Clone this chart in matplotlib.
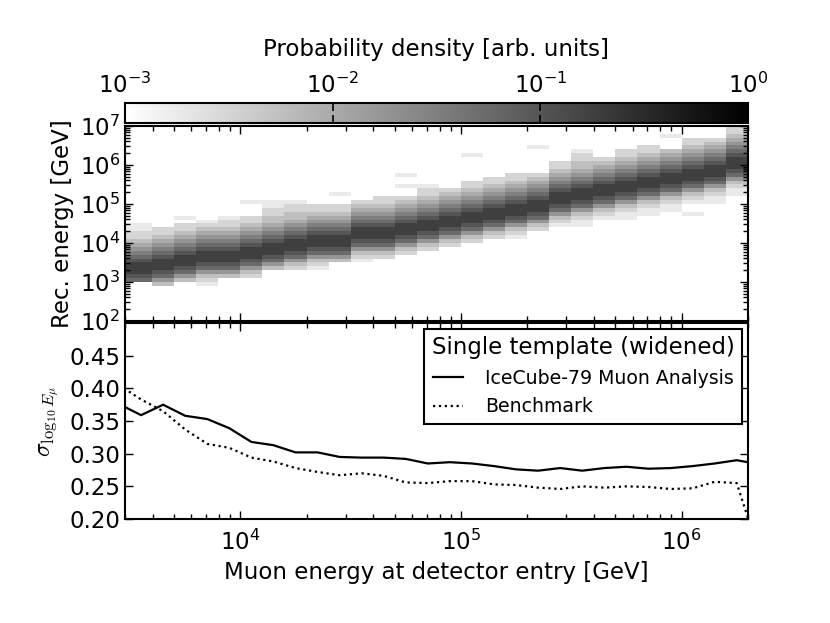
import numpy as np
import matplotlib
matplotlib.use("Agg")
import matplotlib.pyplot as plt
from matplotlib.colors import LogNorm
from matplotlib.ticker import (NullLocator, NullFormatter, FixedLocator,
                               FormatStrFormatter, LogLocator)

# muon energy bins (log10 GeV): first bin clipped by the axis at 3 TeV
x_edges_log = [np.log10(3000.0)] + list(np.round(np.arange(3.6, 6.31, 0.1), 2))
y_edges_log = np.round(np.arange(2.0, 7.01, 0.1), 2)

# heat map: first filled row (tenths of a decade)
# and darkness level per row going up (0 = empty, 9 = darkest)
heat_start = [30, 29, 30, 29, 31, 31, 33, 33, 33, 35, 35, 36, 37, 38,
              39, 40, 41, 41, 43, 44, 44, 46, 46, 47, 48, 47, 50, 52]
heat_levels = [
    "789998765432211",
    "357899987654322",
    "35789998765432201",
    "12357899987654321",
    "3578999876543221",
    "23578999876543220001",
    "357899987654332211",
    "235789998765433221",
    "12357899987654322",
    "357899987654322001",
    "1235789998765432",
    "2357899987654322",
    "235789998765432001001",
    "23578999876543221",
    "235789998765432",
    "23578999876543220000001",
    "2357899987654322",
    "12357899987654322",
    "2357899987654320000001",
    "12357899987654322",
    "11235789998765433221",
    "1235789998765432",
    "112357899987654322",
    "112357899987654322",
    "11235789998765430001",
    "10012357899987654322",
    "11235789998765432",
    "112357899987654322",
]

# resolution curves, points at bin centres
res_x_log = [3.45, 3.55, 3.65, 3.75, 3.85, 3.95, 4.05, 4.15, 4.25, 4.35,
             4.45, 4.55, 4.65, 4.75, 4.85, 4.95, 5.05, 5.15, 5.25, 5.35,
             5.45, 5.55, 5.65, 5.75, 5.85, 5.95, 6.05, 6.15, 6.25, 6.35]
res_ic79 = [0.376, 0.359, 0.375, 0.358, 0.353, 0.339, 0.318, 0.313, 0.302, 0.302,
            0.295, 0.294, 0.294, 0.292, 0.285, 0.287, 0.285, 0.281, 0.276, 0.274,
            0.278, 0.274, 0.278, 0.280, 0.277, 0.278, 0.281, 0.285, 0.290, 0.284]
res_bench = [0.405, 0.383, 0.365, 0.337, 0.315, 0.309, 0.294, 0.288, 0.278, 0.272,
             0.267, 0.270, 0.266, 0.256, 0.255, 0.258, 0.258, 0.253, 0.252, 0.248,
             0.246, 0.250, 0.248, 0.250, 0.249, 0.246, 0.247, 0.257, 0.255, 0.150]

# build the density table
n_rows = len(y_edges_log) - 1
Z = np.zeros((n_rows, len(heat_levels)))
for j, (start, levels) in enumerate(zip(heat_start, heat_levels)):
    for k, ch in enumerate(levels):
        lev = int(ch)
        if lev > 0:
            Z[start - 20 + k, j] = 10 ** (-3 + 0.25 * lev)
Z = np.ma.masked_equal(Z, 0)

xe = 10 ** np.array(x_edges_log)
ye = 10 ** y_edges_log

plt.rcParams['axes.linewidth'] = 1.5
plt.rcParams['font.family'] = 'DejaVu Sans'

fig = plt.figure(figsize=(8.3, 6.23), dpi=100)
cax = fig.add_axes([0.1506, 0.8026, 0.7506, 0.0321])
ax1 = fig.add_axes([0.1506, 0.4848, 0.7506, 0.313])
ax2 = fig.add_axes([0.1506, 0.1669, 0.7506, 0.3146])

fs = 16.5

mesh = ax1.pcolormesh(xe, ye, Z, cmap='gray_r', norm=LogNorm(1e-3, 1))
cb = fig.colorbar(mesh, cax=cax, orientation='horizontal')
cb.outline.set_linewidth(1.5)
cax.xaxis.set_ticks_position('top')
cax.xaxis.set_label_position('top')
cax.xaxis.set_major_locator(FixedLocator([1e-3, 1e-2, 1e-1, 1]))
cax.xaxis.set_minor_locator(NullLocator())
cax.tick_params(which='both', direction='in', top=True, bottom=True,
                length=6, width=1.2, color='black', labelsize=fs, pad=4)
cb.set_label('Probability density [arb. units]', fontsize=fs, labelpad=12)

for ax in (ax1, ax2):
    ax.set_xscale('log')
    ax.set_xlim(3e3, 2e6)
    ax.tick_params(which='both', direction='in', top=True, right=True,
                   labelsize=fs)
    ax.tick_params(which='major', length=6, width=1)
    ax.tick_params(which='minor', length=3.5, width=1)

ax1.set_yscale('log')
ax1.set_ylim(1e2, 1e7)
ax1.yaxis.set_major_locator(LogLocator(base=10, numticks=12))
ax1.yaxis.set_minor_locator(LogLocator(base=10, subs=np.arange(2, 10), numticks=12))
ax1.yaxis.set_minor_formatter(NullFormatter())
ax1.xaxis.set_major_formatter(NullFormatter())
ax1.xaxis.set_minor_formatter(NullFormatter())
ax1.set_ylabel('Rec. energy [GeV]', fontsize=fs, labelpad=4)

ax2.plot(10 ** np.array(res_x_log), res_ic79, color='black', lw=1.6,
         ls='-', label='IceCube-79 Muon Analysis')
ax2.plot(10 ** np.array(res_x_log), res_bench, color='black', lw=1.6,
         ls=':', label='Benchmark')
ax2.set_ylim(0.2, 0.5)
ax2.set_yticks([0.20, 0.25, 0.30, 0.35, 0.40, 0.45])
ax2.yaxis.set_major_formatter(FormatStrFormatter('%.2f'))
ax2.set_xlabel('Muon energy at detector entry [GeV]', fontsize=fs, labelpad=4)
ax2.set_ylabel(r'$\sigma_{\log_{10}E_\mu}$', fontsize=17, math_fontfamily='cm',
               labelpad=6)
ax2.tick_params(axis='x', pad=8)

leg = ax2.legend(title='Single template (widened)', loc='upper right',
                 fontsize=13.6, title_fontsize=16.5, fancybox=False,
                 edgecolor='black', framealpha=1, handlelength=1.6,
                 handletextpad=1.2, borderaxespad=0.3, borderpad=0.4,
                 labelspacing=0.5)
leg.get_frame().set_linewidth(1.5)

fig.savefig('out.png', dpi=100)
